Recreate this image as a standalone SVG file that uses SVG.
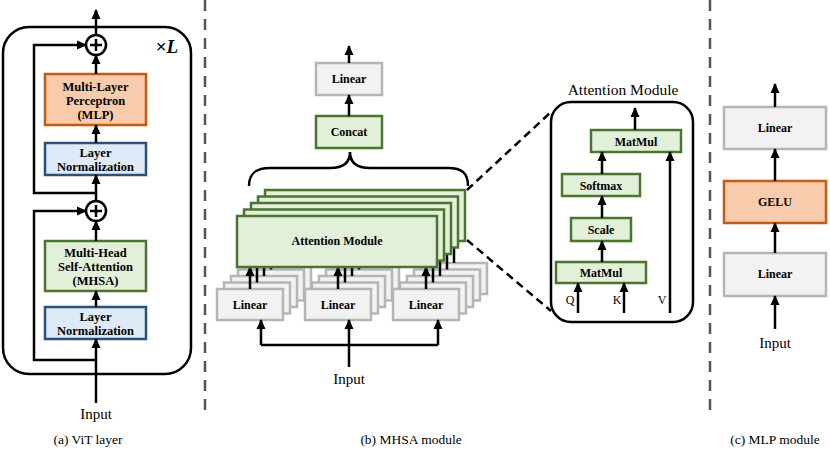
<svg xmlns="http://www.w3.org/2000/svg" width="830" height="462" viewBox="0 0 830 462">
<defs>
<marker id="ah" markerUnits="userSpaceOnUse" markerWidth="10" markerHeight="10" viewBox="0 0 10 10" refX="9" refY="5" orient="auto">
<path d="M0,0.5 L10,5 L0,9.5 z" fill="#000"/>
</marker>
<style>
.ln{stroke:#000;stroke-width:2.5;fill:none}
.ar{stroke:#000;stroke-width:2.5;fill:none;marker-end:url(#ah)}
.sep{stroke:#555;stroke-width:2.5;stroke-dasharray:11 8;fill:none}
.zd{stroke:#000;stroke-width:2.5;stroke-dasharray:8 5;fill:none}
.g{fill:#e2efd9;stroke:#4a7430;stroke-width:2.5}
.o{fill:#f8cbad;stroke:#c55a11;stroke-width:2.5}
.b{fill:#deebf7;stroke:#2b4f7e;stroke-width:2.5}
.gr{fill:#f2f2f2;stroke:#b5b5b5;stroke-width:2.5}
.t{font-family:"Liberation Serif","Times New Roman",serif;font-weight:bold;font-size:12px;text-anchor:middle;fill:#000}
.ta{font-family:"Liberation Serif","Times New Roman",serif;font-weight:bold;font-size:12.5px;text-anchor:middle;fill:#000}
.r{font-family:"Liberation Serif","Times New Roman",serif;font-size:15px;text-anchor:middle;fill:#000}
.q{font-family:"Liberation Serif","Times New Roman",serif;font-size:12px;text-anchor:middle;fill:#000}
.cap{font-family:"Liberation Serif","Times New Roman",serif;font-size:13.5px;text-anchor:middle;fill:#000}
</style>
</defs>

<!-- separators -->
<line class="sep" x1="205" y1="0" x2="205" y2="418"/>
<line class="sep" x1="710" y1="0" x2="710" y2="418"/>

<!-- Panel (a) -->
<g id="vit-frame">
<rect x="3" y="27" width="188" height="347" rx="26" class="ln"/>
<text x="167" y="53" style="font-family:'Liberation Serif',serif;font-size:19px;font-weight:bold;text-anchor:middle">×<tspan font-style="italic">L</tspan></text>
</g>
<g id="add1">
<circle cx="96" cy="45" r="10" class="ln"/>
<path d="M90,45 H102 M96,39 V51" class="ln"/>
</g>
<g id="mlp-a">
<rect x="45" y="74" width="101" height="51" class="o"/>
<text class="ta" x="95.5" y="91">Multi-Layer</text>
<text class="ta" x="95.5" y="105">Perceptron</text>
<text class="ta" x="95.5" y="119">(MLP)</text>
</g>
<g id="ln1">
<rect x="45" y="143" width="101" height="32" class="b"/>
<text class="ta" x="95.5" y="157">Layer</text>
<text class="ta" x="95.5" y="171">Normalization</text>
</g>
<g id="add2">
<circle cx="96" cy="211" r="10" class="ln"/>
<path d="M90,211 H102 M96,205 V217" class="ln"/>
</g>
<g id="mhsa-a">
<rect x="45" y="241" width="101" height="50" class="g"/>
<text class="ta" x="95.5" y="257">Multi-Head</text>
<text class="ta" x="95.5" y="271">Self-Attention</text>
<text class="ta" x="95.5" y="285">(MHSA)</text>
</g>
<g id="ln2">
<rect x="45" y="307" width="101" height="32" class="b"/>
<text class="ta" x="95.5" y="321">Layer</text>
<text class="ta" x="95.5" y="335">Normalization</text>
</g>
<text class="r" x="96" y="419">Input</text>
<g id="conn-a">
<line class="ar" x1="96" y1="403" x2="96" y2="339"/>
<polyline class="ar" points="96,360 34,360 34,211 86,211"/>
<line class="ar" x1="96" y1="307" x2="96" y2="291"/>
<line class="ar" x1="96" y1="241" x2="96" y2="221"/>
<line class="ar" x1="96" y1="201" x2="96" y2="175"/>
<polyline class="ar" points="96,193 34,193 34,45 86,45"/>
<line class="ar" x1="96" y1="143" x2="96" y2="125"/>
<line class="ar" x1="96" y1="74" x2="96" y2="55"/>
<line class="ar" x1="96" y1="35" x2="96" y2="10"/>
</g>

<!-- Panel (b) -->
<g id="linear-out">
<rect x="316" y="63" width="66" height="32" class="gr"/>
<text class="t" x="349" y="83">Linear</text>
</g>
<g id="concat">
<rect x="316" y="116" width="66" height="32" class="g"/>
<text class="t" x="349" y="136">Concat</text>
</g>
<path id="brace" class="ln" d="M249,186 C249,173 256,168 270,168 L330,168 C343,168 350,163 350,152 C350,163 357,168 370,168 L448,168 C462,168 468,173 468,186"/>

<g id="linear-q">
<rect x="245" y="263" width="66" height="31" class="gr"/>
<rect x="238" y="269.5" width="66" height="31" class="gr"/>
<rect x="231" y="276" width="66" height="31" class="gr"/>
<rect x="224" y="282.5" width="66" height="31" class="gr"/>
<rect x="217" y="289" width="66" height="31" class="gr"/>
<text class="t" x="250" y="309">Linear</text>
</g>
<g id="linear-k">
<rect x="333" y="263" width="66" height="31" class="gr"/>
<rect x="326" y="269.5" width="66" height="31" class="gr"/>
<rect x="319" y="276" width="66" height="31" class="gr"/>
<rect x="312" y="282.5" width="66" height="31" class="gr"/>
<rect x="305" y="289" width="66" height="31" class="gr"/>
<text class="t" x="338" y="309">Linear</text>
</g>
<g id="linear-v">
<rect x="421" y="263" width="66" height="31" class="gr"/>
<rect x="414" y="269.5" width="66" height="31" class="gr"/>
<rect x="407" y="276" width="66" height="31" class="gr"/>
<rect x="400" y="282.5" width="66" height="31" class="gr"/>
<rect x="393" y="289" width="66" height="31" class="gr"/>
<text class="t" x="426" y="309">Linear</text>
</g>

<g id="conn-b">
<line class="ar" x1="250" y1="289" x2="250" y2="267"/>
<line class="ln" x1="257" y1="282.5" x2="257" y2="260.5"/>
<line class="ln" x1="264" y1="276" x2="264" y2="254"/>
<line class="ln" x1="271" y1="269.5" x2="271" y2="247.5"/>
<line class="ln" x1="278" y1="263" x2="278" y2="241"/>
<line class="ar" x1="338" y1="289" x2="338" y2="267"/>
<line class="ln" x1="345" y1="282.5" x2="345" y2="260.5"/>
<line class="ln" x1="352" y1="276" x2="352" y2="254"/>
<line class="ln" x1="359" y1="269.5" x2="359" y2="247.5"/>
<line class="ln" x1="366" y1="263" x2="366" y2="241"/>
<line class="ar" x1="426" y1="289" x2="426" y2="267"/>
<line class="ln" x1="433" y1="282.5" x2="433" y2="260.5"/>
<line class="ln" x1="440" y1="276" x2="440" y2="254"/>
<line class="ln" x1="447" y1="269.5" x2="447" y2="247.5"/>
<line class="ln" x1="454" y1="263" x2="454" y2="241"/>
<polyline class="ln" points="261,345 438,345"/>
<line class="ar" x1="261" y1="345" x2="261" y2="320"/>
<line class="ar" x1="349" y1="367" x2="349" y2="320"/>
<line class="ar" x1="438" y1="345" x2="438" y2="320"/>
<line class="ar" x1="349" y1="116" x2="349" y2="95"/>
<line class="ar" x1="349" y1="63" x2="349" y2="46"/>
<line class="zd" x1="467" y1="190" x2="551" y2="112"/>
<line class="zd" x1="467" y1="240" x2="551" y2="311"/>
</g>

<g id="attention-stack">
<rect x="265" y="190" width="200" height="51" class="g"/>
<rect x="258" y="196.5" width="200" height="51" class="g"/>
<rect x="251" y="203" width="200" height="51" class="g"/>
<rect x="244" y="209.5" width="200" height="51" class="g"/>
<rect x="237" y="216" width="200" height="51" class="g"/>
<text class="t" x="337" y="245">Attention Module</text>
</g>
<text class="r" x="349" y="384">Input</text>

<!-- Attention module detail -->
<g id="attn-frame">
<rect x="551" y="102" width="142" height="220" rx="20" class="ln"/>
<text x="623" y="95" style="font-family:'Liberation Serif',serif;font-size:15.5px;text-anchor:middle">Attention Module</text>
</g>
<g id="matmul2">
<rect x="591" y="130" width="90" height="22" class="g"/>
<text class="t" x="636" y="145.5">MatMul</text>
</g>
<g id="softmax">
<rect x="562" y="174" width="78" height="22" class="g"/>
<text class="t" x="601" y="189.5">Softmax</text>
</g>
<g id="scale">
<rect x="571" y="218" width="60" height="23" class="g"/>
<text class="t" x="601" y="233.5">Scale</text>
</g>
<g id="matmul1">
<rect x="556" y="262" width="90" height="21" class="g"/>
<text class="t" x="601" y="277">MatMul</text>
</g>
<g id="conn-attn">
<line class="ar" x1="635" y1="130" x2="635" y2="108"/>
<line class="ar" x1="602" y1="174" x2="602" y2="152"/>
<line class="ar" x1="602" y1="218" x2="602" y2="196"/>
<line class="ar" x1="602" y1="262" x2="602" y2="241"/>
<line class="ar" x1="578" y1="313" x2="578" y2="283"/>
<line class="ar" x1="624" y1="313" x2="624" y2="283"/>
<line class="ar" x1="670" y1="313" x2="670" y2="152"/>
</g>
<text class="q" x="570" y="304">Q</text>
<text class="q" x="617" y="304">K</text>
<text class="q" x="662" y="304">V</text>

<!-- Panel (c) -->
<g id="mlp-linear2">
<rect x="724" y="107" width="102" height="42" class="gr"/>
<text class="t" x="775" y="132">Linear</text>
</g>
<g id="gelu">
<rect x="724" y="181" width="102" height="42" class="o"/>
<text class="t" x="775" y="206">GELU</text>
</g>
<g id="mlp-linear1">
<rect x="724" y="253" width="102" height="43" class="gr"/>
<text class="t" x="775" y="278">Linear</text>
</g>
<g id="conn-c">
<line class="ar" x1="775" y1="107" x2="775" y2="84"/>
<line class="ar" x1="775" y1="181" x2="775" y2="149"/>
<line class="ar" x1="775" y1="253" x2="775" y2="223"/>
<line class="ar" x1="775" y1="329" x2="775" y2="296"/>
</g>
<text class="r" x="775" y="348">Input</text>

<!-- captions -->
<text class="cap" x="88" y="444">(a) ViT layer</text>
<text class="cap" x="411" y="444">(b) MHSA module</text>
<text class="cap" x="775" y="444">(c) MLP module</text>
</svg>
